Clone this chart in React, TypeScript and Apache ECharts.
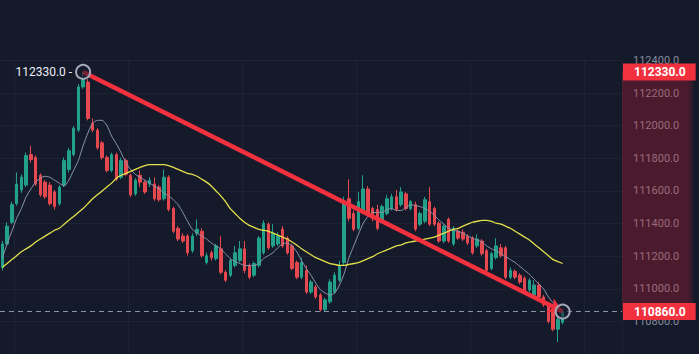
import React, { useEffect, useRef } from 'react';
import * as echarts from 'echarts';

const SLOT_COUNT = 131;
const categories: string[] = Array.from({ length: SLOT_COUNT }, (_, i) => `${i}`);

// [open, close, low, high]
const candles: number[][] = [
  [111131, 111275, 111113, 111293], [111275, 111384, 111263, 111408], [111408, 111516, 111396, 111534],
  [111522, 111642, 111510, 111714], [111606, 111684, 111588, 111702], [111636, 111817, 111624, 111835],
  [111823, 111792, 111774, 111877], [111805, 111642, 111630, 111817], [111696, 111576, 111564, 111708],
  [111654, 111564, 111552, 111666], [111636, 111522, 111510, 111654], [111594, 111504, 111486, 111606],
  [111522, 111624, 111510, 111636], [111636, 111786, 111624, 111805], [111732, 111847, 111714, 111865],
  [111823, 111985, 111811, 111997], [111973, 112238, 111961, 112256], [112238, 112286, 112226, 112330],
  [112268, 112045, 112033, 112286], [112015, 111973, 111961, 112045], [111973, 111865, 111853, 111985],
  [111895, 111805, 111792, 111907], [111805, 111726, 111714, 111817], [111726, 111823, 111714, 111835],
  [111823, 111672, 111660, 111835], [111684, 111786, 111672, 111805], [111786, 111702, 111690, 111798],
  [111696, 111576, 111564, 111708], [111582, 111666, 111570, 111678], [111696, 111654, 111624, 111726],
  [111654, 111594, 111582, 111666], [111642, 111666, 111624, 111684], [111642, 111552, 111540, 111684],
  [111624, 111546, 111534, 111636], [111552, 111684, 111540, 111732], [111684, 111486, 111474, 111696],
  [111492, 111353, 111341, 111504], [111371, 111305, 111293, 111384], [111323, 111293, 111281, 111341],
  [111323, 111221, 111203, 111335], [111233, 111323, 111221, 111341], [111341, 111365, 111323, 111426],
  [111353, 111203, 111191, 111371], [111161, 111203, 111149, 111221], [111221, 111191, 111173, 111233],
  [111185, 111263, 111173, 111275], [111245, 111101, 111089, 111323], [111101, 111053, 111041, 111113],
  [111083, 111173, 111071, 111185], [111143, 111221, 111131, 111263], [111173, 111245, 111161, 111293],
  [111245, 111113, 111095, 111293], [111143, 111071, 111059, 111155], [111083, 111155, 111071, 111167],
  [111143, 111311, 111131, 111323], [111221, 111402, 111209, 111420], [111396, 111251, 111239, 111408],
  [111263, 111341, 111251, 111396], [111275, 111323, 111263, 111347], [111365, 111263, 111251, 111384],
  [111311, 111221, 111209, 111323], [111263, 111125, 111113, 111275], [111161, 111071, 111059, 111173],
  [111071, 111161, 111059, 111191], [111113, 110980, 110968, 111143], [110980, 111041, 110968, 111053],
  [111011, 110950, 110938, 111023], [110962, 110872, 110860, 110974], [110872, 110932, 110860, 110944],
  [110920, 111041, 110908, 111059], [110980, 111083, 110968, 111101], [111053, 111143, 111041, 111173],
  [111161, 111534, 111143, 111564], [111552, 111432, 111414, 111672], [111462, 111365, 111353, 111480],
  [111371, 111534, 111359, 111594], [111474, 111612, 111462, 111696], [111612, 111462, 111450, 111630],
  [111492, 111432, 111414, 111504], [111486, 111371, 111359, 111516], [111414, 111504, 111402, 111516],
  [111462, 111552, 111450, 111576], [111492, 111564, 111480, 111582], [111564, 111486, 111474, 111606],
  [111516, 111594, 111504, 111624], [111582, 111492, 111480, 111594], [111492, 111534, 111480, 111546],
  [111516, 111365, 111353, 111534], [111396, 111462, 111384, 111474], [111414, 111546, 111402, 111564],
  [111534, 111396, 111384, 111624], [111492, 111396, 111384, 111504], [111402, 111293, 111281, 111414],
  [111293, 111384, 111281, 111396], [111426, 111293, 111281, 111438], [111275, 111371, 111263, 111384],
  [111353, 111311, 111299, 111365], [111347, 111305, 111293, 111365], [111323, 111281, 111269, 111335],
  [111311, 111221, 111209, 111323], [111263, 111305, 111251, 111335], [111293, 111215, 111203, 111305],
  [111233, 111113, 111101, 111245], [111125, 111215, 111113, 111227], [111191, 111263, 111179, 111311],
  [111251, 111203, 111191, 111275], [111251, 111071, 111059, 111263], [111071, 111113, 111059, 111131],
  [111107, 111071, 111059, 111119], [111083, 111041, 111029, 111095], [111065, 110980, 110968, 111077],
  [110993, 111053, 110980, 111065], [110962, 111023, 110950, 111053], [111023, 110950, 110938, 111041],
  [110950, 110902, 110890, 110962], [110902, 110800, 110788, 110920], [110872, 110752, 110740, 110890],
  [110752, 110812, 110674, 110830], [110794, 110860, 110782, 110872],
];

const maFast: number[] = [
  111191, 111275, 111353, 111432, 111492, 111564, 111612, 111654, 111678, 111690,
  111684, 111666, 111648, 111630, 111666, 111726, 111786, 111877, 111955, 112015,
  112033, 112033, 112003, 111937, 111889, 111835, 111774, 111732, 111702, 111684,
  111666, 111648, 111630, 111612, 111588, 111570, 111546, 111516, 111468, 111414,
  111365, 111341, 111323, 111305, 111281, 111263, 111245, 111215, 111185, 111167,
  111155, 111143, 111143, 111143, 111155, 111185, 111203, 111221, 111251, 111275,
  111281, 111263, 111227, 111173, 111125, 111083, 111035, 110993, 110974, 110962,
  110974, 111023, 111095, 111191, 111263, 111335, 111402, 111444, 111468, 111468,
  111468, 111486, 111492, 111480, 111480, 111498, 111516, 111510, 111504, 111492,
  111474, 111450, 111420, 111396, 111371, 111359, 111353, 111341, 111323, 111311,
  111299, 111287, 111263, 111245, 111233, 111215, 111197, 111179, 111161, 111137,
  111113, 111089, 111059, 111029, 110999, 110950, 110914, 110884, 110866,
];

const maSlow: number[] = [
  111131, 111155, 111179, 111203, 111227, 111245, 111263, 111287, 111305, 111323,
  111341, 111359, 111371, 111396, 111420, 111444, 111468, 111492, 111522, 111552,
  111576, 111600, 111624, 111648, 111678, 111696, 111708, 111720, 111732, 111744,
  111756, 111762, 111762, 111762, 111762, 111756, 111744, 111732, 111720, 111708,
  111702, 111690, 111672, 111654, 111630, 111600, 111570, 111534, 111492, 111462,
  111432, 111408, 111389, 111377, 111365, 111359, 111353, 111341, 111329, 111317,
  111305, 111287, 111269, 111245, 111227, 111209, 111191, 111179, 111167, 111155,
  111149, 111143, 111143, 111149, 111155, 111161, 111173, 111185, 111197, 111215,
  111227, 111239, 111251, 111263, 111269, 111281, 111287, 111293, 111299, 111305,
  111311, 111317, 111329, 111341, 111353, 111365, 111371, 111384, 111396, 111408,
  111414, 111420, 111420, 111414, 111402, 111396, 111384, 111371, 111353, 111335,
  111317, 111299, 111275, 111251, 111227, 111203, 111179, 111167, 111155,
];

const yMin = 110600;
const yMax = 112400;
const yStep = 200;
const firstLabel = 110800;

const highIndex = 17;
const highValue = 112330;
const lastIndex = 118;
const lastValue = 110860;

const UP = '#22a089';
const DOWN = '#e5484f';
const RED = '#f2313f';
const BG = '#151a2b';
const GRID = '#1d2334';
const FONT = 'Roboto, "Noto Sans", sans-serif';

export default function App() {
  const ref = useRef<HTMLDivElement>(null);

  useEffect(() => {
    if (!ref.current) return;
    const chart = echarts.init(ref.current, null, { renderer: 'svg' });
    const priceBox = (text: string) => ({
      show: true,
      position: 'end',
      distance: 1,
      formatter: text,
      backgroundColor: RED,
      color: '#ffffff',
      fontWeight: 'bold',
      fontSize: 12,
      fontFamily: FONT,
      padding: [3, 10, 2, 11],
    });
    const option: any = {
      animation: false,
      backgroundColor: BG,
      grid: { left: 0, right: 77, top: 60.5, bottom: -6.3, containLabel: false },
      xAxis: {
        type: 'category',
        data: categories,
        boundaryGap: true,
        axisLine: { show: false },
        axisTick: { show: false },
        axisLabel: { show: false },
        splitLine: {
          show: true,
          interval: (i: number) => i % 24 === 3,
          lineStyle: { color: GRID, width: 1 },
        },
      },
      yAxis: {
        type: 'value',
        position: 'right',
        min: yMin,
        max: yMax,
        interval: yStep,
        axisLine: { show: false },
        axisTick: { show: false },
        splitLine: { show: true, lineStyle: { color: GRID, width: 1 } },
        axisLabel: {
          color: '#868b9a',
          fontSize: 11,
          fontFamily: FONT,
          margin: 11,
          formatter: (v: number) => (v >= firstLabel ? v.toFixed(1) : ''),
        },
      },
      series: [
        {
          type: 'candlestick',
          data: candles,
          barWidth: 3,
          z: 2,
          itemStyle: {
            color: UP,
            color0: DOWN,
            borderColor: UP,
            borderColor0: DOWN,
            borderWidth: 1,
          },
          markLine: {
            silent: true,
            symbol: 'none',
            z: 4,
            data: [
              {
                yAxis: lastValue,
                lineStyle: { type: [5, 4], color: '#8c95a8', width: 1 },
                label: priceBox(lastValue.toFixed(1)),
              },
              {
                yAxis: highValue,
                lineStyle: { color: 'rgba(0,0,0,0)', width: 0 },
                label: priceBox(highValue.toFixed(1)),
              },
              [
                {
                  coord: [categories[highIndex], highValue],
                  symbol: 'none',
                  lineStyle: { color: RED, width: 4.5, type: 'solid' },
                  label: { show: false },
                },
                { coord: [categories[lastIndex], lastValue], symbol: 'arrow', symbolSize: [12, 14] },
              ],
            ],
          },
          markPoint: {
            silent: true,
            z: 5,
            symbol: 'circle',
            symbolSize: 14,
            itemStyle: { color: 'rgba(21,26,43,0.55)', borderColor: '#a3a9b9', borderWidth: 2 },
            data: [
              {
                coord: [categories[highIndex], highValue],
                label: {
                  show: true,
                  position: 'left',
                  distance: 3,
                  formatter: highValue.toFixed(1) + ' -',
                  color: '#eceef3',
                  fontSize: 12,
                  fontFamily: FONT,
                },
              },
              { coord: [categories[lastIndex], lastValue], label: { show: false } },
            ],
          },
        },
        {
          type: 'line',
          data: maFast,
          symbol: 'none',
          smooth: 0.2,
          z: 3,
          lineStyle: { color: '#8e96ac', width: 1 },
        },
        {
          type: 'line',
          data: maSlow,
          symbol: 'none',
          smooth: 0.2,
          z: 3,
          lineStyle: { color: '#e4e04c', width: 1.3 },
        },
      ],
    };
    chart.setOption(option);

    const yTop = chart.convertToPixel({ yAxisIndex: 0 }, highValue) as number;
    const yBot = chart.convertToPixel({ yAxisIndex: 0 }, lastValue) as number;
    chart.setOption({
      graphic: [
        {
          type: 'rect',
          silent: true,
          z: 1,
          shape: { x: 622, y: yTop, width: 71, height: yBot - yTop },
          style: {
            fill: new echarts.graphic.LinearGradient(0, 0, 1, 0, [
              { offset: 0, color: 'rgba(200,30,50,0.30)' },
              { offset: 0.92, color: 'rgba(200,30,50,0.30)' },
              { offset: 1, color: 'rgba(200,30,50,0.12)' },
            ]),
          },
        },
      ],
    });

    return () => chart.dispose();
  }, []);

  return (
    <div
      ref={ref}
      style={{ position: 'fixed', left: 0, top: 0, width: 699, height: 354, background: BG }}
    />
  );
}
